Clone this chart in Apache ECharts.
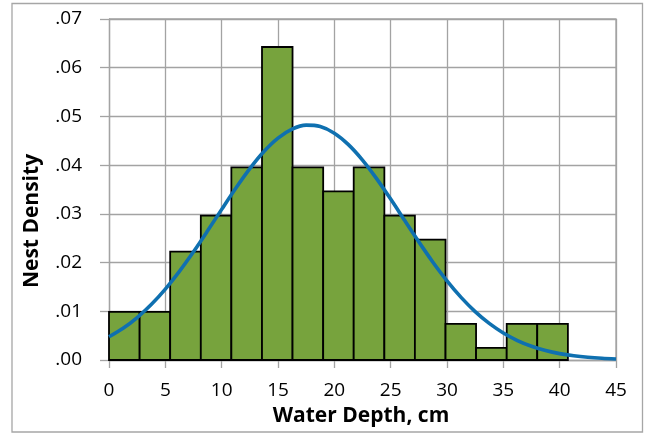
<!DOCTYPE html>
<html>
<head>
<meta charset="utf-8">
<script src="https://cdn.jsdelivr.net/npm/echarts@6/dist/echarts.min.js"></script>
<style>
  html, body { margin: 0; padding: 0; background: #fff; }
  #chart { width: 647px; height: 434px; }
</style>
</head>
<body>
<div id="chart"></div>
<script>
// Histogram bins (water depth, cm) and nest density per bin
const binEdges = [0, 2.72, 5.43, 8.15, 10.86, 13.58, 16.29, 19.01, 21.72, 24.44, 27.15, 29.87, 32.58, 35.30, 38.01, 40.73];
const density = [0.00988, 0.00988, 0.02224, 0.02965, 0.03954, 0.06425, 0.03954, 0.03460, 0.03954, 0.02965, 0.02471, 0.00741, 0.00247, 0.00741, 0.00741];

// Fitted density curve
const curveX = [0, 1.25, 2.5, 3.75, 5, 6.25, 7.5, 8.75, 10, 11.25, 12.5, 13.75, 15, 16.25, 17.5, 18.75, 20, 21.25, 22.5,
  23.75, 25, 26.25, 27.5, 28.75, 30, 31.25, 32.5, 33.75, 35, 36.25, 37.5, 38.75, 40, 41.25, 42.5, 43.75, 45];
const curveY = [0.00476, 0.00651, 0.00872, 0.01139, 0.01456, 0.01819, 0.02221, 0.02651, 0.03092, 0.03525, 0.03928,
  0.04279, 0.04555, 0.04740, 0.04821, 0.04792, 0.04656, 0.04422, 0.04105, 0.03724, 0.03303, 0.02862, 0.02425,
  0.02008, 0.01625, 0.01286, 0.00994, 0.00751, 0.00555, 0.00400, 0.00283, 0.00195, 0.00131, 0.00087, 0.00056,
  0.00035, 0.00022];

// Axis ticks
const xTicks = [0, 5, 10, 15, 20, 25, 30, 35, 40, 45];
const yTicks = [0, 0.01, 0.02, 0.03, 0.04, 0.05, 0.06, 0.07];

const barData = density.map((v, i) => [binEdges[i], binEdges[i + 1], v]);
const lineData = curveX.map((x, i) => [x, curveY[i]]);

const FONT = '"Open Sans", "Noto Sans", sans-serif';
const GRID_COLOR = '#a3a3a3';

const chart = echarts.init(document.getElementById('chart'), null, { renderer: 'canvas' });

chart.setOption({
  animation: false,
  backgroundColor: '#ffffff',
  grid: { left: 109, right: 31, top: 19, bottom: 74, show: false },
  xAxis: {
    type: 'value',
    min: xTicks[0],
    max: xTicks[xTicks.length - 1],
    interval: xTicks[1] - xTicks[0],
    axisLine: { show: true, lineStyle: { color: GRID_COLOR, width: 1.3 } },
    axisTick: { show: true, length: 8, lineStyle: { color: GRID_COLOR, width: 1.3 } },
    splitLine: { show: true, lineStyle: { color: GRID_COLOR, width: 1.3 } },
    axisLabel: { margin: 21, fontFamily: FONT, fontSize: 19, color: '#000' }
  },
  yAxis: {
    type: 'value',
    min: yTicks[0],
    max: yTicks[yTicks.length - 1],
    interval: yTicks[1] - yTicks[0],
    axisLine: { show: true, lineStyle: { color: GRID_COLOR, width: 1.3 } },
    axisTick: { show: true, length: 9, lineStyle: { color: GRID_COLOR, width: 1.3 } },
    splitLine: { show: true, lineStyle: { color: GRID_COLOR, width: 1.3 } },
    axisLabel: {
      margin: 27,
      fontFamily: FONT,
      fontSize: 19,
      color: '#000',
      formatter: v => v.toFixed(2).replace(/^0\./, '.')
    }
  },
  graphic: [
    {
      type: 'rect',
      shape: { x: 12, y: 3.5, width: 630.5, height: 428.5 },
      style: { fill: 'none', stroke: '#a6a6a6', lineWidth: 1.3 },
      silent: true, z: -1
    },
    {
      // right and top edges of the plot frame
      type: 'polyline',
      shape: { points: [[109, 19], [616, 19], [616, 360]] },
      style: { stroke: GRID_COLOR, lineWidth: 1.3, fill: 'none' },
      silent: true, z: 1
    },
    {
      type: 'text',
      x: 361, y: 416,
      style: {
        text: 'Water Depth, cm',
        fontFamily: FONT, fontSize: 21, fontWeight: 'bold', fill: '#000',
        textAlign: 'center', textVerticalAlign: 'middle'
      }
    },
    {
      type: 'text',
      x: 32, y: 221,
      rotation: Math.PI / 2,
      style: {
        text: 'Nest Density',
        fontFamily: FONT, fontSize: 21, fontWeight: 'bold', fill: '#000',
        textAlign: 'center', textVerticalAlign: 'middle'
      }
    }
  ],
  series: [
    {
      type: 'custom',
      data: barData,
      encode: { x: [0, 1], y: 2 },
      z: 2,
      renderItem: function (params, api) {
        const p0 = api.coord([api.value(0), 0]);
        const p1 = api.coord([api.value(1), api.value(2)]);
        return {
          type: 'rect',
          shape: { x: p0[0], y: p1[1], width: p1[0] - p0[0], height: p0[1] - p1[1] },
          style: { fill: '#77a33d', stroke: '#000000', lineWidth: 1.8 }
        };
      }
    },
    {
      type: 'line',
      data: lineData,
      smooth: 0.3,
      showSymbol: false,
      z: 3,
      lineStyle: { color: '#0f70b0', width: 3.6 }
    }
  ]
});
</script>
</body>
</html>
